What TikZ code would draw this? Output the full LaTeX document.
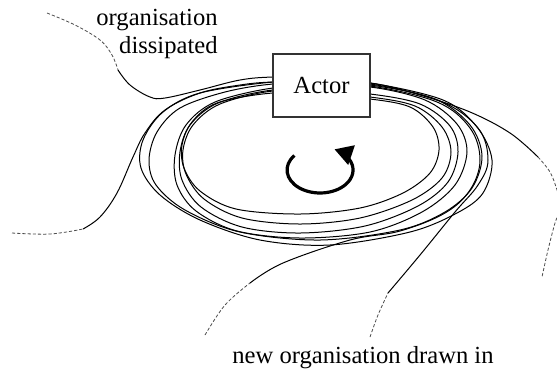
\documentclass[tikz,border=0pt]{standalone}
\usepackage{fontspec}
\setmainfont{Liberation Serif}
\usetikzlibrary{arrows.meta}

\begin{document}
\begin{tikzpicture}[x=0.5pt, y=-0.5pt, >=stealth,
    strand/.style={line width=0.5pt, black},
    fadeline/.style={line width=0.4pt, black!70, dash pattern=on 1.6pt off 1pt},
    actorbox/.style={draw=black!80, line width=0.6pt, fill=white, minimum width=48.5pt, minimum height=31.5pt, inner sep=0pt},
    turnarrow/.style={line width=1.6pt, -{Triangle[length=9pt, width=10pt]}},
    label/.style={font=\fontsize{12.3}{14}\selectfont, inner sep=0pt}]
    \useasboundingbox (0,0) rectangle (557,372);
    \clip (0,0) rectangle (557,372);

    % --- 1. Bucles alrededor del actor ---
    \draw[strand] plot[smooth cycle, tension=0.55] coordinates {(321,96) (370,99) (410,107) (433,127) (439,150) (430,173) (403,193) (360,208) (300,214) (236,209) (200,191) (184,168) (182,145) (192,122) (217,103) (273,93)};
    \draw[strand] plot[smooth cycle, tension=0.55] coordinates {(321,94) (370,97) (415,106) (442,127) (451,152) (442,178) (412,200) (360,218) (300,224) (242,218) (204,199) (186,174) (183,150) (193,125) (220,104) (273,91)};
    \draw[strand] plot[smooth cycle, tension=0.55] coordinates {(321,92) (370,94) (420,104) (450,126) (458,152) (448,182) (418,206) (365,226) (300,233) (242,227) (201,207) (182,180) (180,152) (190,125) (218,103) (273,90)};
    \draw[strand] plot[smooth cycle, tension=0.55] coordinates {(321,88) (370,87) (425,100) (457,124) (467,152) (455,185) (422,212) (370,232) (300,238) (237,231) (196,211) (177,185) (175,155) (186,125) (215,102) (273,88)};
    \draw[strand] plot[smooth cycle, tension=0.55] coordinates {(321,84) (370,85) (435,99) (470,125) (482,156) (472,188) (445,212) (400,230) (320,240) (240,232) (185,210) (156,185) (149,160) (157,132) (180,108) (225,92) (273,84)};
    \draw[strand] plot[smooth cycle, tension=0.55] coordinates {(321,82) (370,83) (443,100) (477,127) (492,160) (483,193) (457,213) (410,232) (330,245) (260,240) (200,220) (160,195) (141,168) (143,140) (163,112) (200,93) (273,82)};

    % --- 2. Organizacion disipada (arriba e izquierda) ---
    \draw[fadeline] plot[smooth, tension=0.6] coordinates {(47,13) (75,25) (100,40) (112,55) (118,70)};
    \draw[strand] plot[smooth, tension=0.6] coordinates {(118,70) (130,85) (150,97) (165,98) (200,90) (240,80) (273,77) (321,77)};
    \draw[fadeline] plot[smooth, tension=0.6] coordinates {(12,233) (50,234) (83,229)};
    \draw[strand] plot[smooth, tension=0.6] coordinates {(83,229) (100,217) (117,193) (133,157) (145,133) (165,110) (200,93) (240,85) (273,82) (321,82)};

    % --- 3. Nueva organizacion atraida (abajo) ---
    \draw[fadeline] plot[smooth, tension=0.6] coordinates {(205,335) (225,305) (250,283)};
    \draw[strand] plot[smooth, tension=0.6] coordinates {(250,283) (283,263) (350,240) (400,231) (445,213) (470,190) (480,160) (470,128) (437,102) (370,86) (321,86)};
    \draw[fadeline] plot[smooth, tension=0.6] coordinates {(370,337) (378,315) (388,293)};
    \draw[strand] plot[smooth, tension=0.6] coordinates {(388,293) (420,255) (455,212) (478,185) (488,160) (478,128) (440,101) (370,84) (321,84)};

    % --- 4. Trazo de la derecha ---
    \draw[strand] plot[smooth, tension=0.6] coordinates {(321,83) (370,83) (420,95) (470,112) (510,133) (538,157)};
    \draw[fadeline] plot[smooth, tension=0.6] coordinates {(538,157) (550,172) (557,190) (561,206) (555,223) (548,250) (542,277)};

    % --- 5. Actor y giro ---
    \node[actorbox, label] (actor) at (321.5,85.5) {Actor};
    \draw[turnarrow] (294.4,155.5) arc[start angle=-141, end angle=-424, x radius=33, y radius=23];

    % Textos
    \node[label, align=right, anchor=base east] (dissipated) at (218,53) {organisation\\dissipated};
    \node[label, anchor=base] (drawnin) at (363,363) {new organisation drawn in};
\end{tikzpicture}
\end{document}
